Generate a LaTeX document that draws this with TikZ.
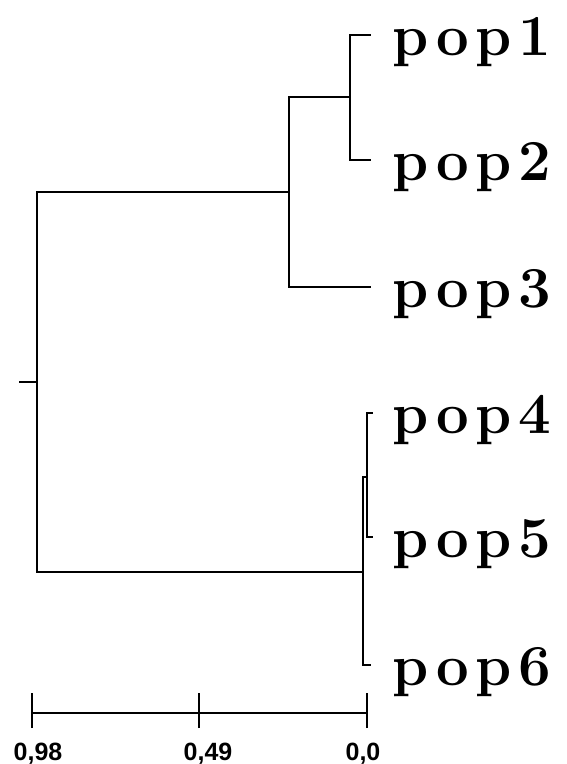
\documentclass[tikz,border=0pt]{standalone}
\usepackage{fontspec}
\newfontfamily\popfont{Latin Modern Roman}[LetterSpace=11]
\newfontfamily\scalefont{Liberation Sans}
\begin{document}
\begin{tikzpicture}[x=1pt,y=-1pt,
  branch/.style={line width=2.4pt,line cap=rect,line join=miter},
  poplabel/.style={anchor=base west,inner sep=0pt,font=\popfont\bfseries\fontsize{58}{58}\selectfont},
  scalelabel/.style={anchor=base,inner sep=0pt,font=\scalefont\bfseries\fontsize{25}{25}\selectfont}]
\useasboundingbox (0,0) rectangle (566,764);
% tips
\coordinate (t1) at (370,35);
\coordinate (t2) at (370,160);
\coordinate (t3) at (370,287);
\coordinate (t4) at (372,413);
\coordinate (t5) at (372,537);
\coordinate (t6) at (370,665);
% labels
\node[poplabel] (p1) at (392,55) {pop1};
\node[poplabel] (p2) at (392,180) {pop2};
\node[poplabel] (p3) at (392,307) {pop3};
\node[poplabel] (p4) at (392,433) {pop4};
\node[poplabel] (p5) at (392,557) {pop5};
\node[poplabel] (p6) at (392,685) {pop6};
% top clade
\draw[branch] (t1) -| (350,160) -- (t2);
\draw[branch] (350,97) -| (289,287) -- (t3);
\draw[branch] (289,192) -| (37,572) -- (363,572);
\draw[branch] (20,382) -- (37,382);
% bottom clade
\draw[branch] (t4) -| (367,537) -- (t5);
\draw[branch] (367,477) -- (363,477) -- (363,665) -- (t6);
% scale bar
\coordinate (s0) at (32,713);
\coordinate (s1) at (199,713);
\coordinate (s2) at (367,713);
\draw[line width=2.2pt] (s0) -- (s2);
\foreach \c in {s0,s1,s2} \draw[line width=2.2pt] ([yshift=-15]\c) -- ([yshift=20]\c);
\node[scalelabel] (l0) at (38,760) {0,98};
\node[scalelabel] (l1) at (208,760) {0,49};
\node[scalelabel] (l2) at (363,760) {0,0};
\end{tikzpicture}
\end{document}
